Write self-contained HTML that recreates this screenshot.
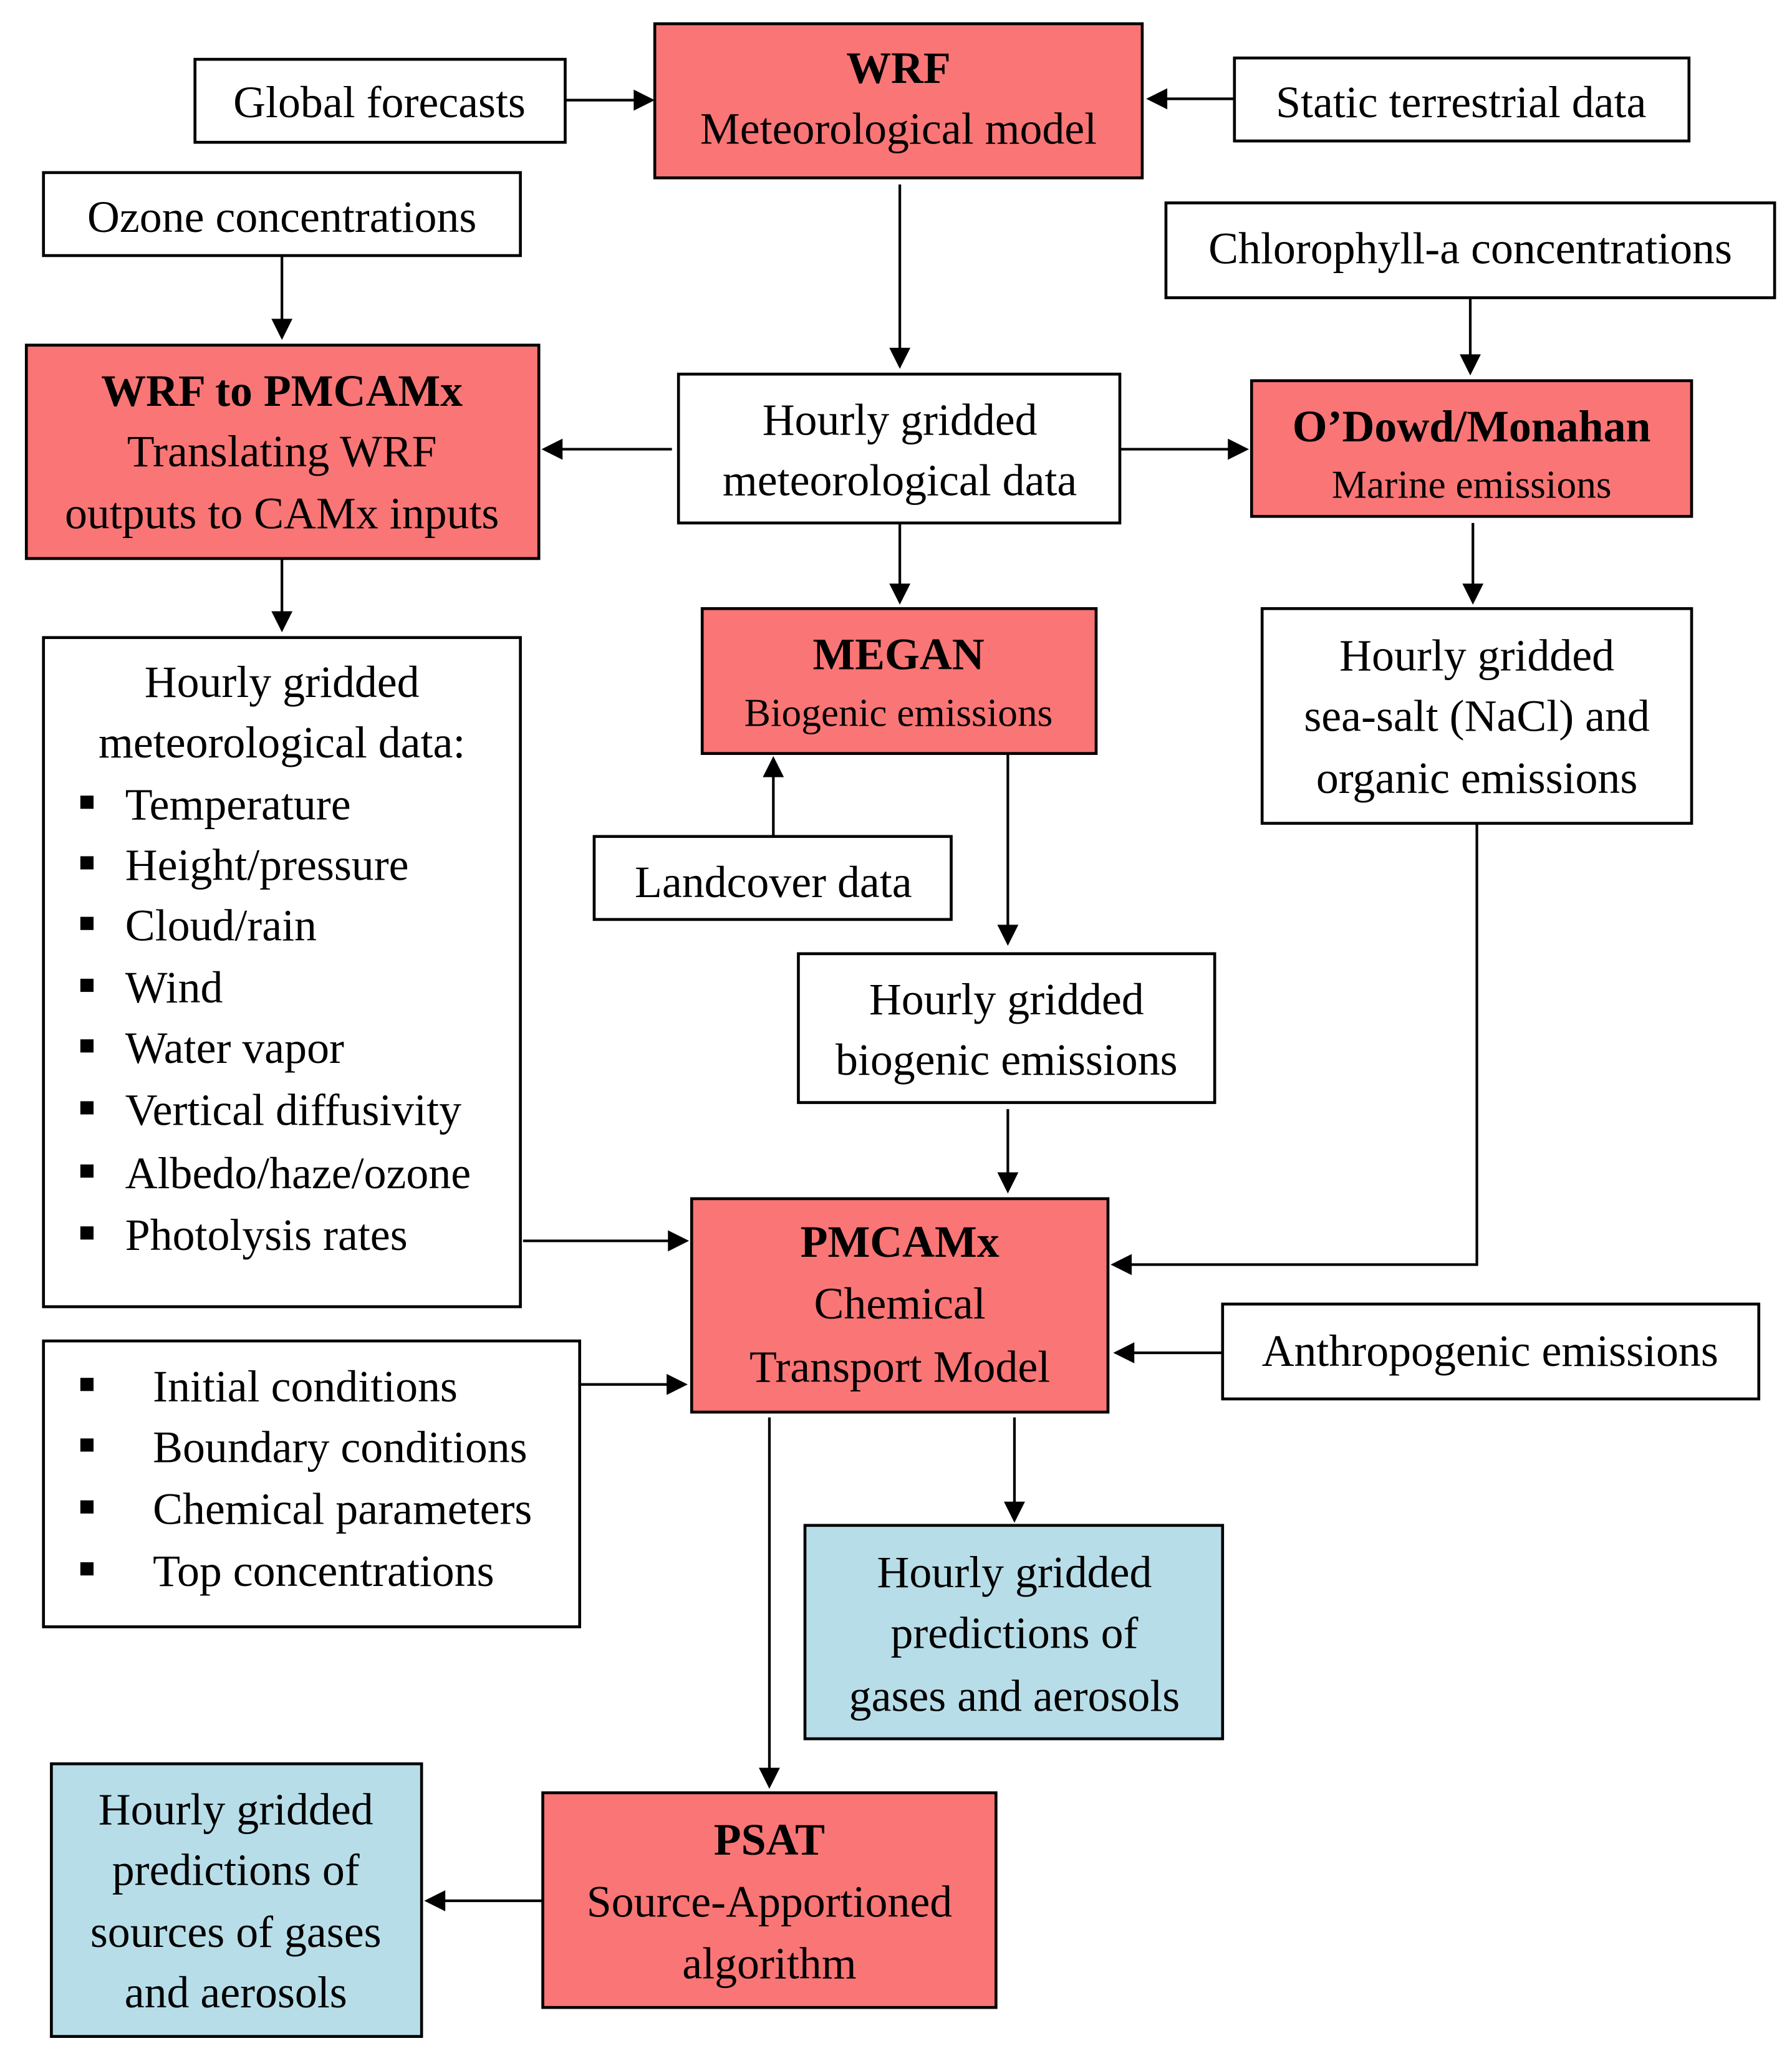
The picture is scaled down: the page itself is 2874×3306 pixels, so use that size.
<!DOCTYPE html>
<html><head><meta charset="utf-8"><style>
html,body{margin:0;padding:0;background:#fff;}
svg{display:block;}
text{font-family:"Liberation Serif","Times New Roman",serif;fill:#000;}
.t{font-size:34px;text-anchor:middle;}
.b{font-size:34px;font-weight:bold;text-anchor:middle;}
.s{font-size:30px;text-anchor:middle;}
.l{font-size:34px;}
</style></head><body>
<svg width="2874" height="3306" viewBox="0 0 1360.2 1564.6" xmlns="http://www.w3.org/2000/svg">
<g stroke="#000" stroke-width="2.2" fill="#fff">
<rect x="148" y="45" width="281" height="63"/>
<rect x="497" y="18" width="370" height="117" fill="#fa7575"/>
<rect x="937" y="44" width="345" height="63"/>
<rect x="33" y="131" width="362" height="63"/>
<rect x="885" y="154" width="462" height="72"/>
<rect x="20" y="262" width="389" height="162" fill="#fa7575"/>
<rect x="515" y="284" width="335" height="113"/>
<rect x="950" y="289" width="334" height="103" fill="#fa7575"/>
<rect x="33" y="484" width="362" height="508"/>
<rect x="533" y="462" width="299" height="110" fill="#fa7575"/>
<rect x="958" y="462" width="326" height="163"/>
<rect x="451" y="635" width="271" height="63"/>
<rect x="606" y="724" width="316" height="113"/>
<rect x="525" y="910" width="316" height="162" fill="#fa7575"/>
<rect x="928" y="990" width="407" height="72"/>
<rect x="33" y="1018" width="407" height="217"/>
<rect x="611" y="1158" width="317" height="162" fill="#b7dde8"/>
<rect x="39" y="1339" width="281" height="207" fill="#b7dde8"/>
<rect x="412" y="1361" width="344" height="163" fill="#fa7575"/>
</g>
<g stroke="#000" stroke-width="2" fill="none">
<path d="M429 76H483"/><path d="M937 75H885"/>
<path d="M683 140V266"/><path d="M214 194V244"/><path d="M1116 226V271"/>
<path d="M510 341H425"/><path d="M850 341H934"/><path d="M683 397V445"/>
<path d="M214 424V466"/><path d="M1118 397V445"/><path d="M587 635V588"/>
<path d="M765 572V704"/><path d="M765 842V892"/><path d="M397 942H509"/>
<path d="M1121 625V960H857"/><path d="M928 1027H859"/><path d="M440 1051H508"/>
<path d="M770 1076V1142"/><path d="M584 1076V1344"/><path d="M412 1443H336"/>
</g>
<g fill="#000">
<path d="M497 76l-16-8v16z"/>
<path d="M870 75l16-8v16z"/>
<path d="M683 280l-8-16h16z"/>
<path d="M214 258l-8-16h16z"/>
<path d="M1116 285l-8-16h16z"/>
<path d="M411 341l16-8v16z"/>
<path d="M948 341l-16-8v16z"/>
<path d="M683 459l-8-16h16z"/>
<path d="M214 480l-8-16h16z"/>
<path d="M1118 459l-8-16h16z"/>
<path d="M587 574l-8 16h16z"/>
<path d="M765 718l-8-16h16z"/>
<path d="M765 906l-8-16h16z"/>
<path d="M523 942l-16-8v16z"/>
<path d="M843 960l16-8v16z"/>
<path d="M845 1027l16-8v16z"/>
<path d="M522 1051l-16-8v16z"/>
<path d="M770 1156l-8-16h16z"/>
<path d="M584 1358l-8-16h16z"/>
<path d="M322 1443l16-8v16z"/>
</g>
<text class="t" x="288" y="89">Global forecasts</text>
<text class="b" x="682" y="63">WRF</text>
<text class="t" x="682" y="109">Meteorological model</text>
<text class="t" x="1109" y="89">Static terrestrial data</text>
<text class="t" x="214" y="176">Ozone concentrations</text>
<text class="t" x="1116" y="200">Chlorophyll-a concentrations</text>
<text class="b" x="214" y="308">WRF to PMCAMx</text>
<text class="t" x="214" y="354">Translating WRF</text>
<text class="t" x="214" y="401">outputs to CAMx inputs</text>
<text class="t" x="683" y="330">Hourly gridded</text>
<text class="t" x="683" y="376">meteorological data</text>
<text class="b" x="1117" y="335">O’Dowd/Monahan</text>
<text class="s" x="1117" y="378">Marine emissions</text>
<text class="t" x="214" y="529">Hourly gridded</text>
<text class="t" x="214" y="575">meteorological data:</text>
<g class="l">
<text x="95" y="622">Temperature</text>
<text x="95" y="668">Height/pressure</text>
<text x="95" y="714">Cloud/rain</text>
<text x="95" y="761">Wind</text>
<text x="95" y="807">Water vapor</text>
<text x="95" y="854">Vertical diffusivity</text>
<text x="95" y="902">Albedo/haze/ozone</text>
<text x="95" y="949">Photolysis rates</text>
<text x="116" y="1064">Initial conditions</text>
<text x="116" y="1110">Boundary conditions</text>
<text x="116" y="1157">Chemical parameters</text>
<text x="116" y="1204">Top concentrations</text>
</g>
<g fill="#000">
<rect x="61" y="604" width="10" height="10"/><rect x="61" y="650" width="10" height="10"/>
<rect x="61" y="696" width="10" height="10"/><rect x="61" y="743" width="10" height="10"/>
<rect x="61" y="789" width="10" height="10"/><rect x="61" y="836" width="10" height="10"/>
<rect x="61" y="884" width="10" height="10"/><rect x="61" y="931" width="10" height="10"/>
<rect x="61" y="1046" width="10" height="10"/><rect x="61" y="1092" width="10" height="10"/>
<rect x="61" y="1139" width="10" height="10"/><rect x="61" y="1186" width="10" height="10"/>
</g>
<text class="b" x="682" y="508">MEGAN</text>
<text class="s" x="682" y="551">Biogenic emissions</text>
<text class="t" x="1121" y="509">Hourly gridded</text>
<text class="t" x="1121" y="555">sea-salt (NaCl) and</text>
<text class="t" x="1121" y="602">organic emissions</text>
<text class="t" x="587" y="681">Landcover data</text>
<text class="t" x="764" y="770">Hourly gridded</text>
<text class="t" x="764" y="816">biogenic emissions</text>
<text class="b" x="683" y="954">PMCAMx</text>
<text class="t" x="683" y="1001">Chemical</text>
<text class="t" x="683" y="1049">Transport Model</text>
<text class="t" x="1131" y="1037">Anthropogenic emissions</text>
<text class="t" x="770" y="1205">Hourly gridded</text>
<text class="t" x="770" y="1251">predictions of</text>
<text class="t" x="770" y="1299">gases and aerosols</text>
<text class="t" x="179" y="1385">Hourly gridded</text>
<text class="t" x="179" y="1431">predictions of</text>
<text class="t" x="179" y="1478">sources of gases</text>
<text class="t" x="179" y="1524">and aerosols</text>
<text class="b" x="584" y="1408">PSAT</text>
<text class="t" x="584" y="1455">Source-Apportioned</text>
<text class="t" x="584" y="1502">algorithm</text>
</svg>
</body></html>
